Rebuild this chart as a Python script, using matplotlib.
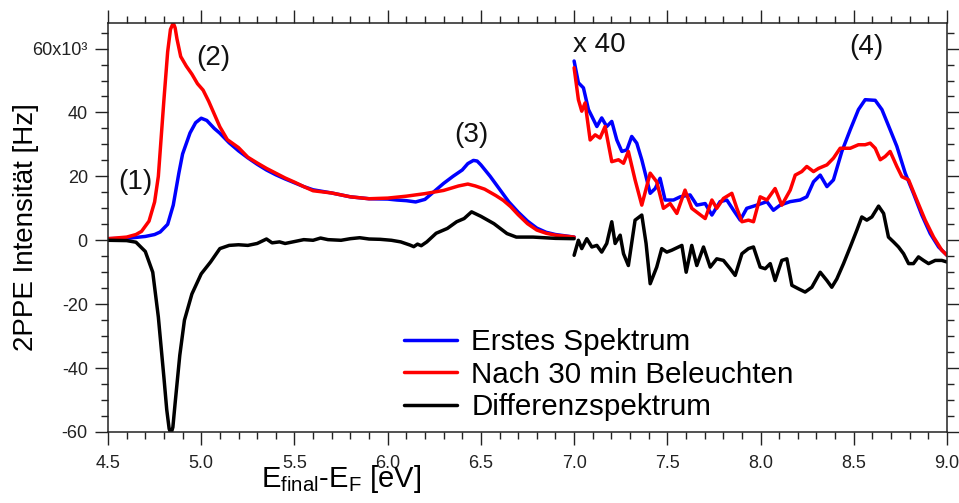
import matplotlib
matplotlib.use("Agg")
import matplotlib.pyplot as plt
from matplotlib.ticker import MultipleLocator, FixedLocator, FixedFormatter

plt.rcParams['font.family'] = ['Liberation Sans', 'DejaVu Sans']
plt.rcParams['mathtext.fontset'] = 'custom'
plt.rcParams['mathtext.rm'] = 'Liberation Sans'
plt.rcParams['mathtext.it'] = 'Liberation Sans:italic'
plt.rcParams['mathtext.bf'] = 'Liberation Sans:bold'

# ---- low-energy part (unscaled), intensity in kHz ----
x_erstes_lo = [4.50, 4.60, 4.70, 4.75, 4.78, 4.82, 4.85, 4.88, 4.90, 4.94, 4.97, 5.00,
               5.03, 5.07, 5.10, 5.15, 5.20, 5.25, 5.30, 5.35, 5.40, 5.45, 5.50, 5.55,
               5.60, 5.70, 5.80, 5.90, 6.00, 6.05, 6.10, 6.15, 6.20, 6.25, 6.30, 6.35,
               6.40, 6.43, 6.46, 6.48, 6.50, 6.55, 6.60, 6.65, 6.70, 6.75, 6.80, 6.85,
               6.90, 7.00]
y_erstes_lo = [0.5, 0.6, 1.2, 1.8, 2.6, 5.0, 11.0, 21.0, 27.0, 33.6, 36.8, 38.2,
               37.5, 35.0, 33.5, 30.5, 28.0, 25.8, 23.8, 22.0, 20.5, 19.2, 18.0, 16.8,
               15.8, 14.8, 13.6, 13.0, 12.9, 12.6, 12.4, 12.0, 12.8, 15.3, 17.8, 20.0,
               22.0, 24.0, 25.0, 24.8, 23.6, 20.0, 16.0, 12.0, 8.8, 6.0, 3.8, 2.5,
               1.8, 1.0]

x_nach_lo = [4.50, 4.60, 4.65, 4.68, 4.72, 4.75, 4.77, 4.80, 4.82, 4.835, 4.85, 4.86,
             4.87, 4.89, 4.92, 4.95, 4.98, 5.01, 5.04, 5.07, 5.10, 5.14, 5.20, 5.25,
             5.30, 5.35, 5.40, 5.45, 5.50, 5.55, 5.60, 5.70, 5.80, 5.90, 6.00, 6.10,
             6.20, 6.30, 6.38, 6.43, 6.47, 6.52, 6.58, 6.62, 6.66, 6.70, 6.75, 6.80,
             6.85, 6.90, 7.00]
y_nach_lo = [0.5, 1.0, 1.8, 2.8, 6.0, 12.0, 20.0, 44.0, 59.0, 66.0, 68.0, 66.5,
             63.0, 57.5, 54.5, 52.0, 49.0, 47.0, 43.5, 39.5, 35.5, 31.5, 29.0, 26.0,
             24.2, 22.5, 21.0, 19.5, 18.2, 16.8, 15.5, 14.8, 13.6, 13.0, 13.2, 13.8,
             14.6, 15.6, 17.0, 17.6, 17.0, 16.0, 14.0, 12.5, 10.5, 8.0, 5.2, 3.2,
             2.2, 1.6, 1.0]

x_diff_lo = [4.50, 4.60, 4.65, 4.70, 4.74, 4.77, 4.80, 4.815, 4.828, 4.838, 4.848, 4.86,
             4.885, 4.91, 4.95, 5.00, 5.05, 5.10, 5.15, 5.20, 5.25, 5.30, 5.35, 5.38,
             5.42, 5.45, 5.50, 5.55, 5.60, 5.64, 5.68, 5.75, 5.80, 5.85, 5.90, 5.96,
             6.02, 6.07, 6.12, 6.14, 6.16, 6.18, 6.21, 6.26, 6.32, 6.37, 6.41, 6.45,
             6.50, 6.57, 6.64, 6.69, 6.78, 6.90, 7.00]
y_diff_lo = [0.0, -0.1, -0.6, -3.5, -10.0, -24.0, -43.0, -53.0, -59.0, -60.5, -58.5, -51.0,
             -36.0, -25.0, -16.8, -10.5, -6.8, -2.6, -1.6, -1.4, -1.6, -1.0, 0.4, -0.8,
             -0.5, -1.0, -0.4, 0.2, 0.0, 0.7, 0.2, 0.0, 0.5, 0.8, 0.4, 0.3,
             0.0, -0.5, -1.5, -2.0, -1.2, -1.7, -0.5, 2.2, 3.7, 5.8, 6.8, 8.9,
             7.5, 5.2, 2.1, 1.0, 1.0, 0.6, 0.5]

# ---- high-energy part, magnified x40 ----
x_erstes_hi = [7.000, 7.023, 7.050, 7.077, 7.095, 7.122, 7.148, 7.175, 7.202, 7.229,
               7.256, 7.283, 7.309, 7.336, 7.363, 7.386, 7.408, 7.435, 7.461, 7.488,
               7.533, 7.569, 7.622, 7.658, 7.703, 7.739, 7.783, 7.819, 7.855, 7.891,
               7.926, 7.980, 8.034, 8.069, 8.105, 8.159, 8.212, 8.248, 8.284, 8.320,
               8.356, 8.391, 8.436, 8.481, 8.525, 8.561, 8.615, 8.651, 8.695, 8.731,
               8.776, 8.820, 8.865, 8.910, 8.955, 9.000]
y_erstes_hi_x40 = [56.1, 49.3, 47.7, 40.9, 38.8, 35.6, 38.3, 35.6, 37.2, 31.4,
                   27.8, 28.3, 32.5, 30.4, 25.2, 19.9, 14.7, 16.2, 19.4, 12.6,
                   12.6, 13.6, 14.2, 11.0, 11.5, 7.9, 12.1, 12.6, 9.4, 6.3,
                   10.0, 11.0, 12.1, 9.4, 11.0, 12.1, 12.6, 13.6, 18.3, 20.4,
                   16.8, 18.9, 27.8, 34.6, 40.9, 44.0, 43.8, 40.9, 34.6, 29.4,
                   21.0, 14.7, 7.9, 2.1, -2.1, -4.7]

x_nach_hi = [7.000, 7.023, 7.041, 7.059, 7.086, 7.113, 7.139, 7.166, 7.202, 7.238,
             7.265, 7.291, 7.327, 7.363, 7.408, 7.443, 7.479, 7.515, 7.551, 7.595,
             7.631, 7.667, 7.703, 7.739, 7.765, 7.801, 7.846, 7.873, 7.900, 7.935,
             7.962, 7.998, 8.034, 8.078, 8.114, 8.159, 8.186, 8.221, 8.248, 8.284,
             8.311, 8.356, 8.391, 8.427, 8.481, 8.525, 8.561, 8.588, 8.615, 8.642,
             8.668, 8.695, 8.731, 8.758, 8.794, 8.838, 8.883, 8.928, 8.972, 9.000]
y_nach_hi_x40 = [54.0, 44.0, 40.4, 43.0, 31.4, 33.0, 32.0, 35.6, 24.6, 25.2,
                 24.1, 27.8, 18.9, 11.0, 21.0, 18.3, 10.0, 11.5, 8.4, 15.7,
                 10.0, 8.4, 6.8, 12.6, 10.0, 13.1, 14.7, 10.0, 5.8, 6.3,
                 5.8, 13.6, 12.6, 16.2, 11.0, 15.7, 20.4, 21.5, 23.1, 21.5,
                 22.5, 23.6, 25.7, 28.8, 28.8, 29.9, 29.9, 30.4, 28.8, 25.2,
                 26.2, 27.8, 23.1, 19.9, 18.9, 12.6, 6.3, 1.0, -3.1, -4.7]

x_diff_hi = [7.000, 7.023, 7.041, 7.068, 7.095, 7.122, 7.148, 7.175, 7.202, 7.220,
             7.247, 7.265, 7.291, 7.327, 7.363, 7.386, 7.408, 7.443, 7.470, 7.497,
             7.524, 7.560, 7.578, 7.601, 7.631, 7.658, 7.694, 7.730, 7.765, 7.801,
             7.837, 7.864, 7.900, 7.935, 7.962, 7.998, 8.025, 8.052, 8.078, 8.114,
             8.141, 8.168, 8.204, 8.239, 8.275, 8.320, 8.356, 8.382, 8.409, 8.445,
             8.481, 8.516, 8.543, 8.570, 8.597, 8.633, 8.660, 8.686, 8.713, 8.740,
             8.767, 8.794, 8.820, 8.847, 8.874, 8.901, 8.937, 8.972, 9.000]
y_diff_hi_x40 = [-4.7, 0.0, -2.6, 0.5, -2.1, -1.6, -3.7, -1.0, 5.8, -1.0,
                 1.6, -4.2, -7.9, 6.3, 7.9, -1.0, -13.6, -8.4, -2.6, -3.7,
                 -3.1, -2.1, -1.6, -10.0, -1.6, -7.9, -2.1, -8.4, -5.8, -6.3,
                 -8.9, -11.0, -4.2, -2.6, -2.1, -8.4, -8.9, -7.3, -12.6, -6.3,
                 -5.8, -14.1, -15.2, -16.2, -14.7, -10.0, -12.6, -14.7, -12.1, -7.3,
                 -2.1, 3.1, 7.3, 6.3, 7.3, 10.7, 8.4, 1.0, -0.5, -2.1,
                 -4.2, -7.3, -7.3, -5.2, -6.3, -7.3, -6.3, -6.3, -6.8]

labels = ['Erstes Spektrum', 'Nach 30 min Beleuchten', 'Differenzspektrum']
colors = ['#0000ff', '#ff0000', '#000000']

y_ticks = [-60, -40, -20, 0, 20, 40, 60]
y_ticklabels = ['-60', '-40', '-20', '0', '20', '40', '60x10\u00b3']
x_ticks = [4.5, 5.0, 5.5, 6.0, 6.5, 7.0, 7.5, 8.0, 8.5, 9.0]
x_ticklabels = ['4.5', '5.0', '5.5', '6.0', '6.5', '7.0', '7.5', '8.0', '8.5', '9.0']

fig = plt.figure(figsize=(9.59, 5.03), dpi=100)
ax = fig.add_axes([108 / 959, 1 - 432 / 503, 839 / 959, 409 / 503])

lw = 2.5
style = dict(lw=lw, solid_joinstyle='round', solid_capstyle='round')
ax.plot(x_erstes_lo, y_erstes_lo, color=colors[0], label=labels[0], **style)
ax.plot(x_nach_lo, y_nach_lo, color=colors[1], label=labels[1], **style)
ax.plot(x_diff_lo, y_diff_lo, color=colors[2], label=labels[2], **style)
ax.plot(x_erstes_hi, y_erstes_hi_x40, color=colors[0], **style)
ax.plot(x_nach_hi, y_nach_hi_x40, color=colors[1], **style)
ax.plot(x_diff_hi, y_diff_hi_x40, color=colors[2], **style)

ax.set_xlim(4.5, 9.0)
ax.set_ylim(-60, 68)

ax.xaxis.set_major_locator(FixedLocator(x_ticks))
ax.xaxis.set_major_formatter(FixedFormatter(x_ticklabels))
ax.xaxis.set_minor_locator(MultipleLocator(0.1))
ax.yaxis.set_major_locator(FixedLocator(y_ticks))
ax.yaxis.set_major_formatter(FixedFormatter(y_ticklabels))
ax.yaxis.set_minor_locator(MultipleLocator(5))

ax.tick_params(which='both', direction='out', top=True, right=True,
               labeltop=False, labelright=False, width=1.0, color='#222222')
ax.tick_params(which='major', length=9.5)
ax.tick_params(which='minor', length=5)
ax.tick_params(axis='x', which='major', labelsize=13, pad=7, labelcolor='#222222')
ax.tick_params(axis='y', which='major', labelsize=13, pad=5, labelcolor='#222222')
for s in ax.spines.values():
    s.set_linewidth(1.1)
    s.set_color('#222222')

ax.set_ylabel('2PPE Intensit\u00e4t [Hz]', fontsize=20, va='center')
ax.yaxis.set_label_coords(-0.0977, 0.5)
ax.set_xlabel(r'E$_{\mathrm{final}}$-E$_{\mathrm{F}}$ [eV]', fontsize=21, va='top')
ax.xaxis.set_label_coords(0.278, -0.075)

ann = dict(fontsize=20, ha='center', va='center', color='#111111')
ax.text(4.645, 18.2, '(1)', **ann)
ax.text(5.063, 57.2, '(2)', **ann)
ax.text(6.447, 33.0, '(3)', **ann)
ax.text(8.567, 60.4, '(4)', **ann)
ax.text(6.995, 61.0, 'x 40', fontsize=20, ha='left', va='center', color='#111111')

ax.legend(loc='upper left', bbox_to_anchor=(404 / 959, 1 - 328 / 503),
          bbox_transform=fig.transFigure, frameon=False, fontsize=21.3,
          handlelength=1.8, handletextpad=0.47, labelspacing=0.16,
          borderpad=0, borderaxespad=0)

fig.savefig('out.png', dpi=100)
